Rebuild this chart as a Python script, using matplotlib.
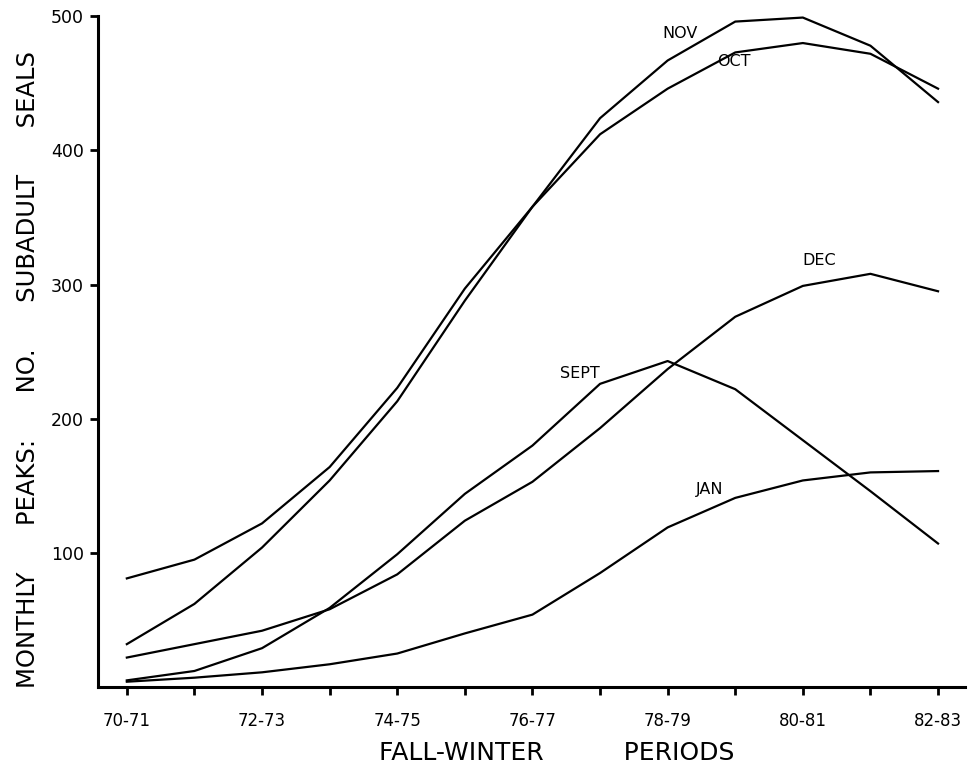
import matplotlib
matplotlib.use("Agg")
import matplotlib.pyplot as plt
import numpy as np

# fall-winter periods, one value per period
periods = ["70-71", "71-72", "72-73", "73-74", "74-75", "75-76", "76-77",
           "77-78", "78-79", "79-80", "80-81", "81-82", "82-83"]
nov = [32, 62, 104, 154, 213, 288, 358, 424, 467, 496, 499, 478, 436]
oct_ = [81, 95, 122, 164, 223, 297, 358, 412, 446, 473, 480, 472, 446]
dec = [22, 32, 42, 58, 84, 124, 153, 193, 237, 276, 299, 308, 295]
sept = [5, 12, 29, 59, 99, 144, 180, 226, 243, 222, 184, 146, 107]
jan = [4, 7, 11, 17, 25, 40, 54, 85, 119, 141, 154, 160, 161]

# curve labels: (text, period position, value)
labels = [("NOV", 8.18, 487), ("OCT", 8.98, 466), ("DEC", 10.24, 318),
          ("SEPT", 6.70, 234), ("JAN", 8.62, 147)]

plt.rcParams['font.family'] = ['DejaVu Sans']

fig = plt.figure(figsize=(9.68, 7.72), dpi=100)
ax = fig.add_axes([0.101, 0.110, 0.896, 0.869])

x = np.arange(len(periods))
for serie in [nov, oct_, dec, sept, jan]:
    ax.plot(x, serie, color='black', linewidth=1.6, solid_joinstyle='round')

for txt, px, py in labels:
    ax.text(px, py, txt, fontsize=11.5, ha='center', va='center')

ax.set_xlim(-0.43, 12.40)
ax.set_ylim(0, 500)

ax.spines['top'].set_visible(False)
ax.spines['right'].set_visible(False)
ax.spines['left'].set_linewidth(2.2)
ax.spines['bottom'].set_linewidth(2.2)

ax.set_xticks(x)
ax.set_xticklabels([p if i % 2 == 0 else "" for i, p in enumerate(periods)])
ax.set_yticks([100, 200, 300, 400, 500])
ax.tick_params(axis='x', direction='out', length=6, width=2, pad=12, labelsize=12)
ax.tick_params(axis='y', direction='out', length=6, width=2, pad=4, labelsize=12.5)

# axis titles placed as in the original drawing
fig.text(557 / 968, 1 - 753 / 772, "FALL-WINTER          PERIODS",
         fontsize=18, ha='center', va='center')
fig.text(28 / 968, 1 - 370 / 772,
         "MONTHLY      PEAKS:      NO.      SUBADULT      SEALS",
         fontsize=17.5, rotation=90, ha='center', va='center')

fig.savefig("out.png", dpi=100)
